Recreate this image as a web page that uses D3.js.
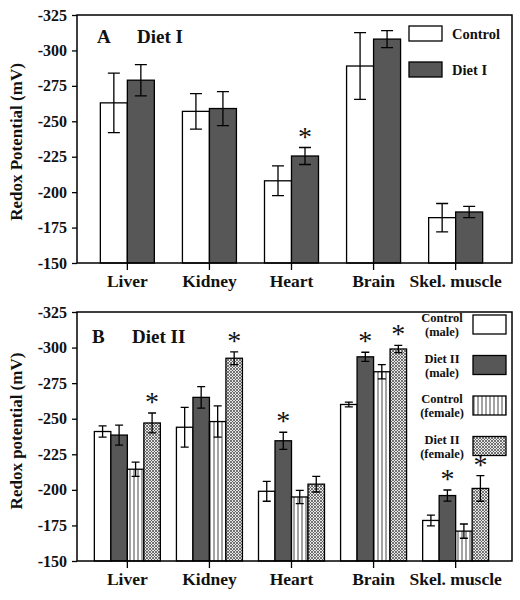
<!DOCTYPE html>
<html><head><meta charset="utf-8">
<script src="https://cdn.jsdelivr.net/npm/d3@7"></script>
<style>body{margin:0;background:#fff}svg{display:block}text{font-family:"Liberation Serif","Times New Roman",serif;font-weight:bold}</style>
</head><body>
<script>
const categories = ["Liver","Kidney","Heart","Brain","Skel. muscle"];
const yTicks = [-150,-175,-200,-225,-250,-275,-300,-325];

// Panel A (Diet I)
const seriesA = ["Control","Diet I"];
const controlA = [-263,-257,-208,-289,-182];
const controlAErr = [21,12.5,10.5,23.5,10];
const dietIA = [-279,-259,-225.5,-308,-186];
const dietIAErr = [11,12,6,6,4];
const sigA = [false,false,true,false,false];

// Panel B (Diet II)
const seriesB = ["Control (male)","Diet II (male)","Control (female)","Diet II (female)"];
const ctrlMaleB = [-241,-244,-199,-260,-178.5];
const ctrlMaleBErr = [4,14,7,1.7,3.8];
const dietMaleB = [-238.5,-265,-234.5,-293.5,-196];
const dietMaleBErr = [7,7.5,6,3.2,3.9];
const ctrlFemB = [-214.5,-248,-195,-283,-171];
const ctrlFemBErr = [5,11,4.7,5,5];
const dietFemB = [-247,-292.5,-204,-299,-201];
const dietFemBErr = [7,4.5,5.5,2.5,9];
const sigB = [
  [false,false,false,false,false],
  [false,false,true,true,true],
  [false,false,false,false,false],
  [true,true,false,true,true]
];

const W=520,H=600;
const svg=d3.select("body").append("svg").attr("width",W).attr("height",H);
const defs=svg.append("defs");
const ps=defs.append("pattern").attr("id","stripes").attr("patternUnits","userSpaceOnUse").attr("width",4).attr("height",4);
ps.append("rect").attr("width",4).attr("height",4).attr("fill","#fff");
ps.append("line").attr("x1",2).attr("x2",2).attr("y1",0).attr("y2",4).attr("stroke","#333").attr("stroke-width",0.9);
const pc=defs.append("pattern").attr("id","cross").attr("patternUnits","userSpaceOnUse").attr("width",3).attr("height",3);
pc.append("rect").attr("width",3).attr("height",3).attr("fill","#e8e8e8");
pc.append("path").attr("d","M0,0L3,3M3,0L0,3").attr("stroke","#555").attr("stroke-width",0.8);

const fills={"Control":"#fff","Diet I":"#575757","Control (male)":"#fff","Diet II (male)":"#575757","Control (female)":"url(#stripes)","Diet II (female)":"url(#cross)"};

function panel(cfg){
  const g=svg.append("g");
  const x=d3.scaleBand().domain(categories).range([cfg.left-3,cfg.right-3]).paddingInner(0).paddingOuter(0.15);
  const y=d3.scaleLinear().domain([-150,-325]).range([cfg.bottom,cfg.top]);
  const xi=d3.scaleBand().domain(cfg.series).range([-cfg.half,cfg.half]);
  cfg.series.forEach((s,si)=>{
    const vals=cfg.values[si], errs=cfg.errs[si];
    categories.forEach((c,ci)=>{
      const cx=x(c)+x.bandwidth()/2;
      const x0=cx+xi(s);
      g.append("rect").attr("x",x0).attr("y",y(vals[ci])).attr("width",xi.bandwidth()).attr("height",y(-150)-y(vals[ci]))
        .attr("fill",fills[s]).attr("stroke","#000").attr("stroke-width",1.3);
      const mx=x0+xi.bandwidth()/2, e1=y(vals[ci]-errs[ci]), e2=y(vals[ci]+errs[ci]);
      const cw=cfg.cap;
      g.append("path").attr("d",`M${mx},${e1}V${e2}M${mx-cw},${e1}H${mx+cw}M${mx-cw},${e2}H${mx+cw}`)
        .attr("stroke","#000").attr("stroke-width",1.3).attr("fill","none");
      if(cfg.sig[si][ci]){
        g.append("text").attr("x",mx).attr("y",e1-2).attr("text-anchor","middle").attr("font-size",28).attr("font-weight","normal").style("font-weight","normal").attr("fill","#111").text("*");
      }
    });
  });
  // frame
  g.append("rect").attr("x",cfg.left).attr("y",cfg.top).attr("width",cfg.right-cfg.left).attr("height",cfg.bottom-cfg.top)
    .attr("fill","none").attr("stroke","#000").attr("stroke-width",1.5);
  const ya=g.append("g").attr("transform",`translate(${cfg.left},0)`).call(d3.axisLeft(y).tickValues(yTicks).tickSize(5).tickPadding(5).tickFormat(d=>d));
  ya.select(".domain").remove();
  ya.selectAll("line").attr("stroke-width",1.3);
  ya.selectAll("text").attr("font-size",16).attr("fill","#111");
  const xa=g.append("g").attr("transform",`translate(0,${cfg.bottom})`).call(d3.axisBottom(x).tickSize(7).tickPadding(5));
  xa.select(".domain").remove();
  xa.selectAll("line").attr("stroke-width",1.3);
  xa.selectAll("text").attr("font-size",17.5).attr("fill","#111");
  g.append("text").attr("transform",`translate(${cfg.ylx},${cfg.yly}) rotate(-90)`).attr("text-anchor","middle")
    .attr("font-size",17).attr("fill","#111").text(cfg.ylabel);
  g.append("text").attr("x",cfg.left+cfg.titleDx).attr("y",cfg.titleY).attr("font-size",19).attr("fill","#111").text(cfg.letter);
  g.append("text").attr("x",cfg.left+cfg.titleDx2).attr("y",cfg.titleY).attr("font-size",19).attr("fill","#111").text(cfg.title);
  return g;
}

const gA=panel({left:77,right:512,top:15,bottom:263,half:27,cap:6,series:seriesA,values:[controlA,dietIA],errs:[controlAErr,dietIAErr],
  sig:[[false,false,false,false,false],sigA],ylabel:"Redox Potential (mV)",ylx:22,yly:142,letter:"A",title:"Diet I",titleDx:20,titleDx2:60,titleY:43});
// legend A
seriesA.forEach((s,i)=>{
  gA.append("rect").attr("x",409).attr("y",26+i*36).attr("width",33).attr("height",15).attr("fill",fills[s]).attr("stroke","#000").attr("stroke-width",1.3);
  gA.append("text").attr("x",452).attr("y",39+i*36).attr("font-size",14.5).attr("fill","#111").text(s);
});

const gB=panel({left:77,right:512,top:312,bottom:561,half:33,cap:4,series:seriesB,values:[ctrlMaleB,dietMaleB,ctrlFemB,dietFemB],
  errs:[ctrlMaleBErr,dietMaleBErr,ctrlFemBErr,dietFemBErr],sig:sigB,ylabel:"Redox potential (mV)",ylx:22,yly:431,letter:"B",title:"Diet II",titleDx:15,titleDx2:55,titleY:343});
seriesB.forEach((s,i)=>{
  const yy=315+i*40.5;
  gB.append("rect").attr("x",473).attr("y",yy).attr("width",33).attr("height",19).attr("fill",fills[s]).attr("stroke","#000").attr("stroke-width",1.3);
  const parts=s.split(" (");
  const t=gB.append("text").attr("x",442).attr("y",yy+7).attr("text-anchor","middle").attr("font-size",12.5).attr("fill","#111");
  t.append("tspan").attr("x",442).text(parts[0]);
  t.append("tspan").attr("x",442).attr("dy",14).text("("+parts[1]);
});
</script>
</body></html>
